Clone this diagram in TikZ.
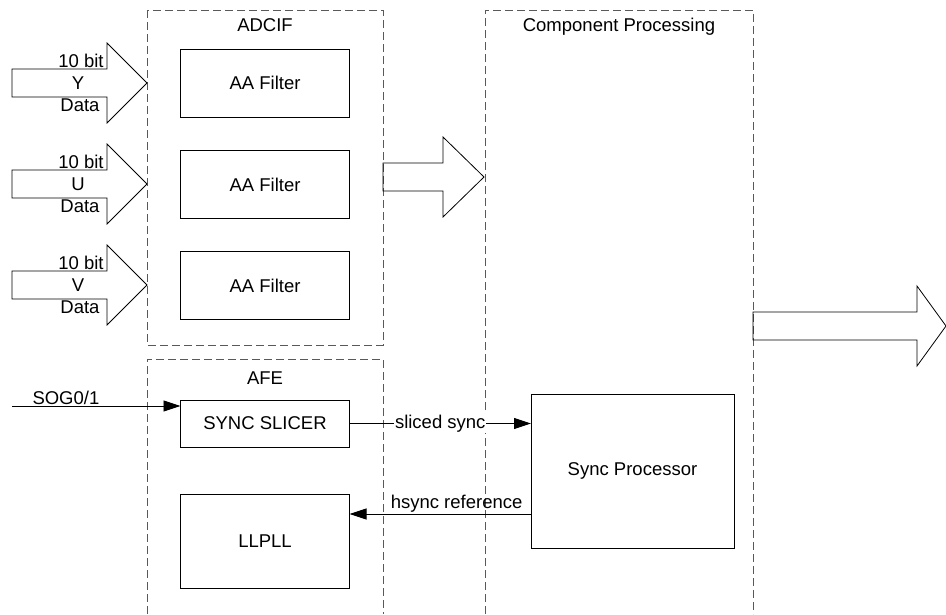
\documentclass[tikz,border=0pt]{standalone}
\usepackage{fontspec}
\setmainfont{Liberation Sans}
\usetikzlibrary{arrows.meta}
\newcommand{\fatarrow}[4]{%
  \draw (#1,#4-14) -- (#2,#4-14) -- (#2,#4-40) -- (#3,#4) -- (#2,#4+40) -- (#2,#4+14) -- (#1,#4+14) -- cycle;}
\begin{document}
\begin{tikzpicture}[x=1pt,y=-1pt,line width=0.8pt,
  blk/.style={draw, rectangle, inner sep=0pt, outer sep=0pt, font=\fontsize{18.5}{22}\selectfont},
  grp/.style={draw=gray!70!black, dash pattern=on 8pt off 4pt},
  txt/.style={font=\fontsize{18.5}{22}\selectfont, inner sep=1pt},
  sig/.style={-{Triangle[length=17pt,width=11pt]}}]
\useasboundingbox (0,0) rectangle (946,614);

\draw[grp] (147,10) rectangle (383,345);
\draw[grp] (147,614) |- (383,359) -- (383,614);
\draw[grp] (485,614) |- (753,10) -- (753,614);
\node[txt] (adcif) at (265,25) {ADCIF};
\node[txt] (afe) at (265,378) {AFE};
\node[txt] (comp) at (619,27) {Component Processing};

\node[blk, minimum width=169pt, minimum height=68pt] (aa1) at (265,83) {AA Filter};
\node[blk, minimum width=169pt, minimum height=68pt] (aa2) at (265,184.5) {AA Filter};
\node[blk, minimum width=169pt, minimum height=68pt] (aa3) at (265,285.5) {AA Filter};
\node[blk, minimum width=169pt, minimum height=47pt] (slicer) at (265,423.5) {SYNC SLICER};
\node[blk, minimum width=169pt, minimum height=94pt] (llpll) at (265,541) {LLPLL};
\node[blk, minimum width=203pt, minimum height=154pt] (syncproc) at (632.5,471) {Sync Processor};

\foreach \yy/\ch in {83/Y,184/U,285/V}{
  \fatarrow{12}{107}{147}{\yy}
  \node[txt, anchor=south] (bit\ch) at (81,\yy-14) {10 bit};
  \node[txt] (ch\ch) at (78,\yy) {\ch};
  \node[txt, anchor=north] (data\ch) at (80,\yy+14) {Data};
}
\fatarrow{383}{443}{484}{177}
\fatarrow{753}{917}{946}{326}

\coordinate (sog) at (12,406);
\draw[sig] (sog) -- (sog -| slicer.west) node[txt, pos=0.32, anchor=south] (soglbl) {SOG0/1};
\draw[sig] (slicer.east) -- (slicer.east -| syncproc.west) node[txt, midway, fill=white] (sliced) {sliced sync};
\draw[sig] ([yshift=-43pt]syncproc.west) -- ([yshift=-43pt]syncproc.west -| llpll.east) node[txt, pos=0.41, anchor=south] (href) {hsync reference};

\end{tikzpicture}
\end{document}
